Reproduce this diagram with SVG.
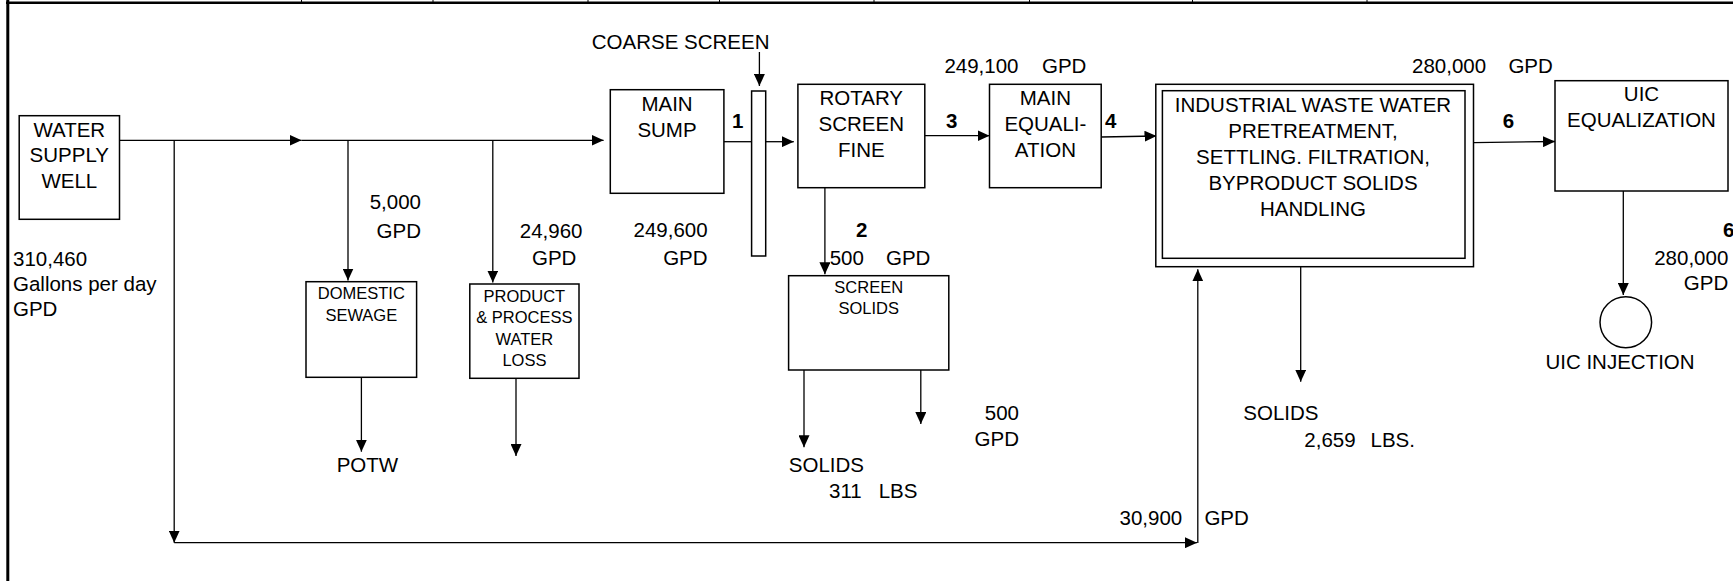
<svg xmlns="http://www.w3.org/2000/svg" width="1733" height="581" viewBox="0 0 1733 581">
<style>
.bx{fill:#fff;stroke:#000;stroke-width:1.5}
.ln{fill:none;stroke:#000;stroke-width:1.3}
.ar{fill:none;stroke:#000;stroke-width:1.3;marker-end:url(#ah)}
text{font-family:"Liberation Sans",Arial,sans-serif;fill:#000}
.t{font-size:20.5px}
.s{font-size:16.5px}
.b{font-size:20.5px;font-weight:bold}
.c{text-anchor:middle}
.r{text-anchor:end}
</style>
<defs>
<marker id="ah" viewBox="0 0 12 11" refX="12" refY="5.5" markerWidth="12" markerHeight="11" markerUnits="userSpaceOnUse" orient="auto"><path d="M0,0 L12,5.5 L0,11 z" fill="#000"/></marker>
</defs>
<rect width="1733" height="581" fill="#fff"/>
<g id="frame">
<line x1="7.8" y1="0" x2="7.8" y2="581" stroke="#000" stroke-width="3"/>
<line x1="6" y1="2.8" x2="1733" y2="2.8" stroke="#000" stroke-width="2.5"/>
<path d="M301.5,0V3M433,0V3M588,0V3M719.5,0V3M874,0V3M1029.5,0V3M1192.5,0V3M1367,0V3" stroke="#000" stroke-width="1"/>
</g>
<g id="connectors">
<path class="ar" d="M119.5,140.3H301.5"/>
<path class="ar" d="M301.5,140.3H603.6"/>
<path class="ar" d="M174.2,140.3V542.7"/>
<path class="ar" d="M174.2,542.7H1197"/>
<path class="ar" d="M1197.8,543V269.3"/>
<path class="ar" d="M348,140.3V280.5"/>
<path class="ar" d="M492.8,140.3V282.5"/>
<path class="ar" d="M361.4,378V451.7"/>
<path class="ar" d="M516,378.3V456"/>
<path class="ar" d="M759.4,52V86"/>
<path class="ln" d="M724,141.7H751.6"/>
<path class="ar" d="M765.7,141.7H793.8"/>
<path class="ar" d="M924.8,135.7H989.5"/>
<path class="ar" d="M1101.2,137L1156.5,136"/>
<path class="ar" d="M824.9,187.7V274.3"/>
<path class="ar" d="M804,370V447.3"/>
<path class="ar" d="M920.8,370V424"/>
<path class="ar" d="M1300.7,266.7V381.7"/>
<path class="ar" d="M1473.5,142.7L1555,141.5"/>
<path class="ar" d="M1623.3,191V295"/>
</g>
<g id="water-supply-well">
<rect class="bx" x="19.2" y="115.7" width="100.3" height="103.6"/>
<text class="t c" x="69.3" y="136.7">WATER</text>
<text class="t c" x="69.3" y="162">SUPPLY</text>
<text class="t c" x="69.3" y="187.7">WELL</text>
</g>
<g id="well-flow">
<text class="t" x="13" y="265.7">310,460</text>
<text class="t" x="13" y="291">Gallons per day</text>
<text class="t" x="13" y="316">GPD</text>
</g>
<g id="domestic-sewage">
<rect class="bx" x="306" y="281.7" width="110.6" height="95.6"/>
<text class="s c" x="361.3" y="299">DOMESTIC</text>
<text class="s c" x="361.3" y="320.7">SEWAGE</text>
<text class="t r" x="421" y="209">5,000</text>
<text class="t r" x="421" y="237.7">GPD</text>
</g>
<g id="potw">
<text class="t" x="336.7" y="472">POTW</text>
</g>
<g id="product-process-water-loss">
<rect class="bx" x="469.8" y="284" width="109.2" height="94.3"/>
<text class="s c" x="524.4" y="301.7">PRODUCT</text>
<text class="s c" x="524.4" y="323.3">&amp; PROCESS</text>
<text class="s c" x="524.4" y="345.3">WATER</text>
<text class="s c" x="524.4" y="366">LOSS</text>
<text class="t" x="519.8" y="238">24,960</text>
<text class="t" x="532" y="265">GPD</text>
</g>
<g id="main-sump">
<rect class="bx" x="610.3" y="89.7" width="113.6" height="103.6"/>
<text class="t c" x="667" y="111">MAIN</text>
<text class="t c" x="667" y="136.7">SUMP</text>
<text class="t r" x="707.6" y="237.3">249,600</text>
<text class="t r" x="707.6" y="265">GPD</text>
<text class="b" x="732" y="128.3">1</text>
</g>
<g id="coarse-screen">
<rect class="bx" x="751.6" y="91" width="14.1" height="165"/>
<text class="t" x="591.8" y="49.3">COARSE SCREEN</text>
</g>
<g id="rotary-screen-fine">
<rect class="bx" x="797.9" y="84.3" width="126.9" height="103.4"/>
<text class="t c" x="861.3" y="105">ROTARY</text>
<text class="t c" x="861.3" y="130.7">SCREEN</text>
<text class="t c" x="861.3" y="156.7">FINE</text>
<text class="b" x="946" y="128.3">3</text>
<text class="b" x="856" y="237.3">2</text>
<text class="t" x="829.7" y="265">500</text>
<text class="t" x="886" y="265">GPD</text>
</g>
<g id="screen-solids">
<rect class="bx" x="788.6" y="275.7" width="160.2" height="94.3"/>
<text class="s c" x="868.7" y="293.3">SCREEN</text>
<text class="s c" x="868.7" y="314">SOLIDS</text>
<text class="t r" x="1019" y="420">500</text>
<text class="t r" x="1019" y="445.7">GPD</text>
<text class="t" x="788.8" y="471.7">SOLIDS</text>
<text class="t" x="829" y="498.3">311</text>
<text class="t" x="878.7" y="498.3">LBS</text>
</g>
<g id="main-equalization">
<rect class="bx" x="989.5" y="84.3" width="111.7" height="103.4"/>
<text class="t c" x="1045.4" y="105">MAIN</text>
<text class="t c" x="1045.4" y="130.7">EQUALI-</text>
<text class="t c" x="1045.4" y="156.7">ATION</text>
<text class="t" x="944.4" y="73.3">249,100</text>
<text class="t" x="1042" y="73.3">GPD</text>
<text class="b" x="1105" y="128.3">4</text>
</g>
<g id="industrial-waste-water">
<rect class="bx" x="1155.8" y="84.3" width="317.7" height="182.4"/>
<rect class="bx" x="1162.4" y="90.7" width="302.6" height="167.6"/>
<text class="t c" x="1313" y="111.7">INDUSTRIAL WASTE WATER</text>
<text class="t c" x="1313" y="137.7">PRETREATMENT,</text>
<text class="t c" x="1313" y="164.3">SETTLING. FILTRATION,</text>
<text class="t c" x="1313" y="190">BYPRODUCT SOLIDS</text>
<text class="t c" x="1313" y="216">HANDLING</text>
<text class="t" x="1412" y="73.3">280,000</text>
<text class="t" x="1508.4" y="73.3">GPD</text>
<text class="b" x="1502.7" y="128.3">6</text>
<text class="t" x="1243.3" y="420">SOLIDS</text>
<text class="t" x="1304.3" y="446.7">2,659</text>
<text class="t" x="1370.5" y="446.7">LBS.</text>
<text class="t" x="1119.5" y="525">30,900</text>
<text class="t" x="1204.4" y="525">GPD</text>
</g>
<g id="uic-equalization">
<rect class="bx" x="1555" y="80.7" width="173" height="110.3"/>
<text class="t c" x="1641.5" y="100.7">UIC</text>
<text class="t c" x="1641.5" y="126.7">EQUALIZATION</text>
<text class="b" x="1723" y="237">6</text>
<text class="t r" x="1728.3" y="265">280,000</text>
<text class="t r" x="1728.3" y="290">GPD</text>
</g>
<g id="uic-injection">
<ellipse class="bx" cx="1625.8" cy="322.2" rx="25.8" ry="25.5"/>
<text class="t c" x="1620" y="369.3">UIC INJECTION</text>
</g>
</svg>
